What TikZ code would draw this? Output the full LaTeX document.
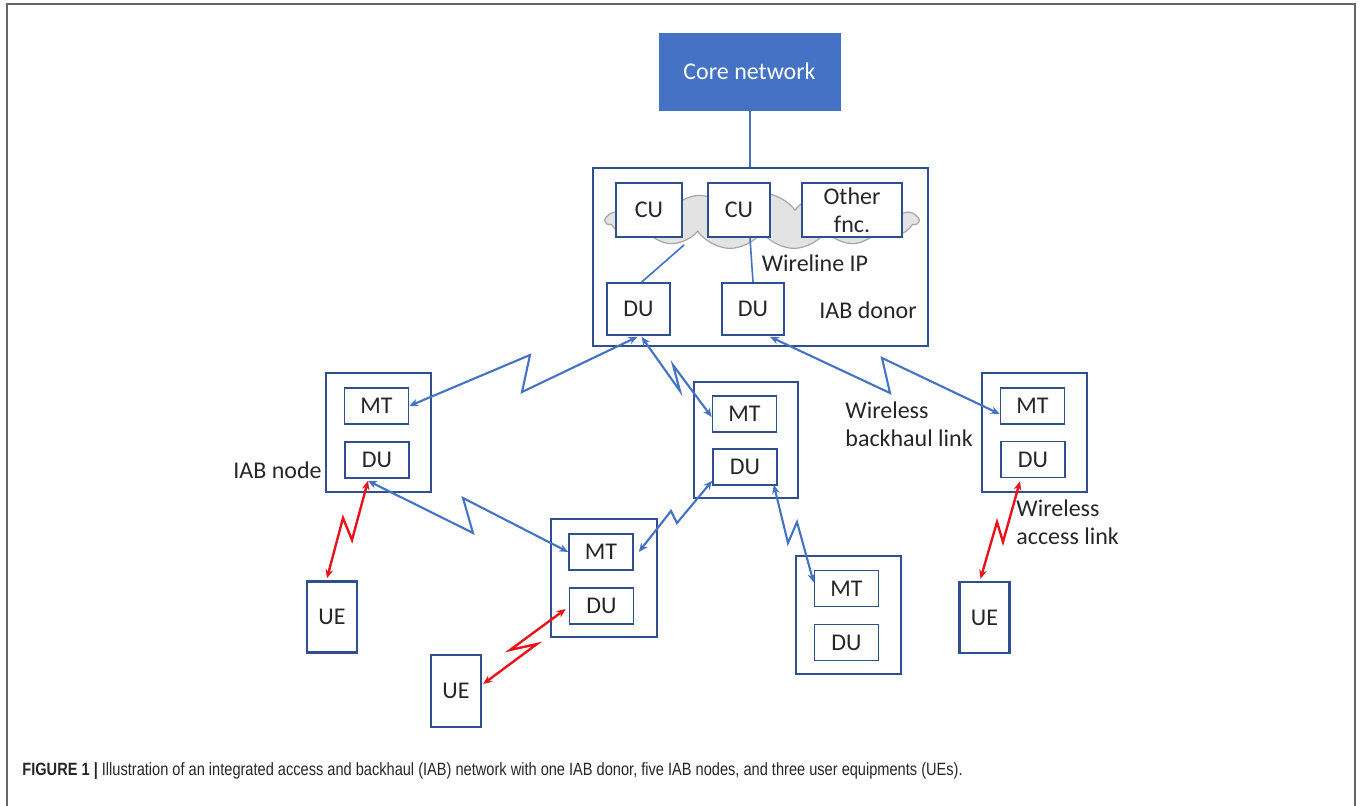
\documentclass[tikz,border=0pt]{standalone}
\usepackage{fontspec}
\setmainfont{Carlito}
\newfontfamily\capfont[FakeStretch=0.82]{Liberation Sans}
\usetikzlibrary{arrows.meta,shapes.symbols,calc}
\definecolor{boxblue}{HTML}{2F4F8F}
\definecolor{linkblue}{HTML}{4472C4}
\definecolor{linkred}{HTML}{E8141C}
\definecolor{txt}{HTML}{262626}
\begin{document}
\begin{tikzpicture}[x=0.5pt,y=-0.5pt,
  every node/.style={font=\fontsize{12}{14}\selectfont, text=txt, inner sep=0pt},
  outer/.style={draw=boxblue, line width=1.2pt, fill=white},
  inner/.style={draw=boxblue, line width=0.8pt, fill=white},
  uebox/.style={draw=boxblue, line width=1.2pt, fill=white, minimum width=25pt, minimum height=35.5pt},
  mtdu/.style={inner, minimum width=32pt, minimum height=18pt},
  blink/.style={draw=linkblue, line width=1.05pt, {Stealth[length=4.5pt,width=3.8pt]}-{Stealth[length=4.5pt,width=3.8pt]}},
  rlink/.style={draw=linkred, line width=1.2pt, {Stealth[length=4.5pt,width=3.8pt]}-{Stealth[length=4.5pt,width=3.8pt]}},
  wire/.style={draw=linkblue, line width=0.8pt}]
\useasboundingbox (0,0) rectangle (1362,806);
% outer frame
\draw[black!60, line width=1pt] (7,806) -- (7,4) -- (1355,4) -- (1355,806);

% core network
\node[fill=linkblue, draw=linkblue, minimum width=90.5pt, minimum height=38.5pt, text=white] (core) at (749.5,71.5) {Core network};

% IAB donor
\node[outer, minimum width=167.5pt, minimum height=89pt] (donor) at (760.5,257) {};
\draw[wire, line width=1pt] (core.south) -- (core.south |- donor.north);
\node[cloud, cloud puffs=15, cloud puff arc=110, cloud ignores aspect, minimum width=156pt, minimum height=28pt, fill=black!11, draw=black!35, line width=0.6pt] (cloud) at (762,221) {};
\node[inner, minimum width=33pt, minimum height=27pt] (cu1) at (649,210) {CU};
\node[inner, minimum width=31pt, minimum height=27pt] (cu2) at (739,210) {CU};
\node[inner, minimum width=50pt, minimum height=27pt, align=center] (oth) at (852,210) {Other\\fnc.};
\node (wip) at (815,263) {Wireline IP};
\node[inner, minimum width=31.5pt, minimum height=26pt] (ddu1) at (638.5,309) {DU};
\node[inner, minimum width=31pt, minimum height=26pt] (ddu2) at (753,309) {DU};
\node (dlab) at (868,310) {IAB donor};
\coordinate (cb) at (684,245);
\draw[wire] (cb) -- ($(ddu1.north)+(3,0)$);
\draw[wire] ($(cu2.south)+(11,0)$) -- (ddu2.north);

% IAB nodes
\node[outer, minimum width=52.5pt, minimum height=59.5pt] (n1) at (378.5,432.5) {};
\node[mtdu] (n1mt) at (376.5,406) {MT};
\node[mtdu] (n1du) at (377,460) {DU};
\node[anchor=east] (n1lab) at (322,470) {IAB node};

\node[outer, minimum width=52pt, minimum height=58pt] (n2) at (746,440) {};
\node[mtdu] (n2mt) at (744.5,414) {MT};
\node[mtdu] (n2du) at (745,467) {DU};

\node[outer, minimum width=53pt, minimum height=59pt] (n3) at (604,578) {};
\node[mtdu] (n3mt) at (601,552) {MT};
\node[mtdu] (n3du) at (601.5,606) {DU};

\node[outer, minimum width=52.5pt, minimum height=59pt] (n4) at (848.5,615) {};
\node[mtdu] (n4mt) at (846.5,588.5) {MT};
\node[mtdu] (n4du) at (846.5,642.5) {DU};

\node[outer, minimum width=52.5pt, minimum height=59.5pt] (n5) at (1034.5,432.5) {};
\node[mtdu] (n5mt) at (1032.5,406) {MT};
\node[mtdu] (n5du) at (1033,459.5) {DU};

% UEs
\node[uebox] (ue1) at (332,617) {UE};
\node[uebox, minimum height=36pt] (ue2) at (456,691) {UE};
\node[uebox] (ue3) at (984.5,617.5) {UE};

% labels
\node[anchor=west, align=left] (wbl) at (845,424) {Wireless\\backhaul link};
\node[anchor=west, align=left] (wal) at (1016,522) {Wireless\\access link};

% wireless backhaul links
\draw[blink] (n1mt.east) -- (530,355) -- (522,392) -- ($(ddu1.south)+(-1,1)$);
\draw[blink] ($(ddu1.south)+(3,1)$) -- (680,391) -- (673,365) -- ($(n2mt.west)+(0,3)$);
\draw[blink] ($(ddu2.south)+(17,1)$) -- (890,393) -- (882,358) -- ($(n5mt.west)+(0,8)$);
\draw[blink] ($(n1du.south)+(-9,2)$) -- (473,533) -- (463,498) -- (n3mt.west);
\draw[blink] ($(n3mt.east)+(5,0)$) -- (671,511) -- (677,523) -- ($(n2du.south west)+(0,-5)$);
\draw[blink] ($(n2du.south east)+(-4,-1)$) -- (788,543) -- (797,522) -- ($(n4mt.west)+(0,-6)$);

% wireless access links
\draw[rlink] ($(n1du.south)+(-9,2)$) -- (352,540) -- (343,518) -- ($(ue1.north)+(-5,-2)$);
\draw[rlink] ($(n3du.west)+(-3,3)$) -- (510,650) -- (537,644) -- ($(ue2.east)+(1,-7)$);
\draw[rlink] ($(n5du.south)+(-13,3)$) -- (1003,542) -- (997,522) -- ($(ue3.north)+(-4,-2)$);

% caption
\node[anchor=base west, font=\capfont\fontsize{8.9}{10}\selectfont, text=black!85] (cap) at (22,776) {\textbf{FIGURE 1 |} Illustration of an integrated access and backhaul (IAB) network with one IAB donor, five IAB nodes, and three user equipments (UEs).};
\end{tikzpicture}
\end{document}
